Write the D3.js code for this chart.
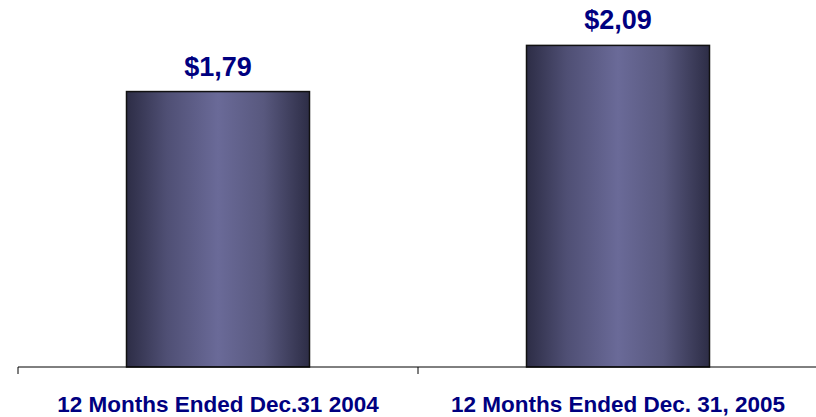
<!DOCTYPE html>
<html lang="en">
<head>
<meta charset="utf-8">
<title>EPS</title>
<script src="https://d3js.org/d3.v7.min.js"></script>
<style>
    body { margin: 0; background: #fff; }
    text { font-family: Arial, "Liberation Sans", sans-serif; font-weight: bold; fill: #000080; }
</style>
</head>
<body>
<div id="chart"></div>
<script>

    // data
    var categories = ["12 Months Ended Dec.31 2004", "12 Months Ended Dec. 31, 2005"]
    var values = [1.79, 2.09]
    var valueLabels = ["$1,79", "$2,09"]

    var width = 816
    var height = 417
    var baseY = 367

    var svg = d3.select("#chart")
        .append("svg")
        .attr("width", width)
        .attr("height", height)

    // gradient for the cylinder look of the bars
    var grad = svg.append("defs").append("linearGradient")
        .attr("id", "barGrad")
        .attr("x1", "0%").attr("x2", "100%")
        .attr("y1", "0%").attr("y2", "0%")
    var stops = [[0, "#2d2d46"], [0.22, "#4f4f74"], [0.5, "#6a6a98"], [0.75, "#58587e"], [1, "#2d2d46"]]
    stops.forEach(function(s) {
        grad.append("stop").attr("offset", s[0]).attr("stop-color", s[1])
    })

    var x = d3.scaleBand()
        .domain(categories)
        .range([18, 818])
        .paddingInner(0.5425)
        .paddingOuter(0.27125)

    var y = d3.scaleLinear()
        .domain([0, 2.385])
        .range([baseY, 0])

    // bars
    svg.selectAll("rect.bar")
        .data(values)
        .enter()
        .append("rect")
        .attr("class", "bar")
        .attr("x", function(d, i) { return x(categories[i]) })
        .attr("y", function(d) { return y(d) })
        .attr("width", x.bandwidth())
        .attr("height", function(d) { return baseY - y(d) })
        .attr("fill", "url(#barGrad)")
        .attr("stroke", "#111")
        .attr("stroke-width", 1.5)

    // value labels
    svg.selectAll("text.val")
        .data(values)
        .enter()
        .append("text")
        .attr("class", "val")
        .attr("x", function(d, i) { return x(categories[i]) + x.bandwidth() / 2 })
        .attr("y", function(d) { return y(d) - 16 })
        .attr("text-anchor", "middle")
        .style("font-size", "27px")
        .text(function(d, i) { return valueLabels[i] })

    // axis line with ticks at the category boundaries
    var step = x.step()
    svg.append("line")
        .attr("x1", 18).attr("x2", width)
        .attr("y1", baseY).attr("y2", baseY)
        .attr("stroke", "#000").attr("stroke-width", 1)
    svg.selectAll("line.tick")
        .data([0, 1, 2])
        .enter()
        .append("line")
        .attr("class", "tick")
        .attr("x1", function(d) { return 18 + d * step })
        .attr("x2", function(d) { return 18 + d * step })
        .attr("y1", baseY).attr("y2", baseY + 7)
        .attr("stroke", "#000").attr("stroke-width", 1)

    // category labels
    svg.selectAll("text.cat")
        .data(categories)
        .enter()
        .append("text")
        .attr("class", "cat")
        .attr("x", function(d) { return x(d) + x.bandwidth() / 2 })
        .attr("y", 412)
        .attr("text-anchor", "middle")
        .style("font-size", "22.5px")
        .text(function(d) { return d })

</script>
</body>
</html>
